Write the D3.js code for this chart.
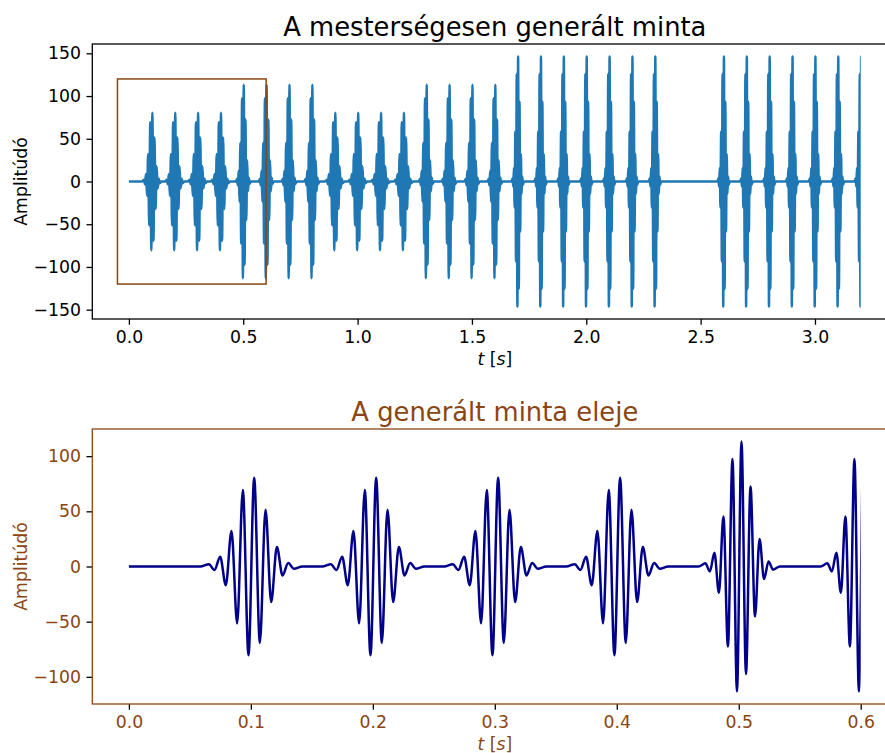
<!DOCTYPE html>
<html>
<head>
<meta charset="utf-8">
<script src="https://cdn.jsdelivr.net/npm/d3@7"></script>
<style>
  body { margin: 0; background: #fff; }
  svg { display: block; font-family: "DejaVu Sans", sans-serif; }
</style>
</head>
<body>
<svg id="chart" width="885" height="753"></svg>
<script>
// burst centres [s], peak amplitude and half period [ms]
var burstCenters = [0.1, 0.2, 0.3, 0.4, 0.5, 0.6, 0.7, 0.8, 0.9, 1.0, 1.1, 1.2,
  1.3, 1.4, 1.5, 1.6, 1.7, 1.8, 1.9, 2.0, 2.1, 2.2, 2.3,
  2.6, 2.7, 2.8, 2.9, 3.0, 3.1, 3.2]
var burstAmps = [80.5, 80.5, 80.5, 80.5, 113.3, 113.3, 113.3, 113.3,
  80.5, 80.5, 80.5, 80.5, 113.3, 113.3, 113.3, 113.3,
  146.3, 146.3, 146.3, 146.3, 146.3, 146.3, 146.3,
  146.3, 146.3, 146.3, 146.3, 146.3, 146.3, 146.3]
var burstHalfPeriods = [4.65, 4.65, 4.65, 4.65, 3.7, 3.7, 3.7, 3.7,
  4.65, 4.65, 4.65, 4.65, 3.7, 3.7, 3.7, 3.7,
  3.03, 3.03, 3.03, 3.03, 3.03, 3.03, 3.03,
  3.03, 3.03, 3.03, 3.03, 3.03, 3.03, 3.03]
var centerShift = 0.0004

// one burst: extrema positions (in half periods from centre) and relative values
var shapeOffsets = [-9, -7.5, -6.5, -5.5, -4.5, -3.5, -2.5, -1.5, -0.5,
  0.5, 1.5, 2.5, 3.5, 4.5, 5.5, 6.5, 7.5, 9]
var shapeValues = [0, 0.025, -0.04, 0.11, -0.21, 0.4, -0.64, 0.86, -1,
  1, -0.86, 0.64, -0.4, 0.22, -0.1, 0.04, -0.025, 0]

var signalStart = 0, signalEnd = 3.2, zoomEnd = 0.6
var zoomBox = {t0: -0.05, t1: 0.6, a0: -120, a1: 120}

var xTicksTop = [0, 0.5, 1.0, 1.5, 2.0, 2.5, 3.0]
var yTicksTop = [-150, -100, -50, 0, 50, 100, 150]
var xTicksBot = [0, 0.1, 0.2, 0.3, 0.4, 0.5, 0.6]
var yTicksBot = [-100, -50, 0, 50, 100]

var brown = '#8B4513'
var tickFont = '17.3px', titleFont = '25.8px'

var signal = [{t: signalStart, v: 0}]
burstCenters.forEach(function(c, i){
  var h = burstHalfPeriods[i]/1000
  shapeOffsets.forEach(function(o, j){
    signal.push({t: c + centerShift + o*h, v: shapeValues[j]*burstAmps[i]})
  })
})
signal.push({t: signalEnd + 0.05, v: 0})

var svg = d3.select('#chart')
var defs = svg.append('defs')

function panel(opt){
  var g = svg.append('g')
  var x = d3.scaleLinear().domain(opt.xDomain).range([92.3, 897.3])
  var y = d3.scaleLinear().domain(opt.yDomain).range([opt.bottom, opt.top])

  defs.append('clipPath').attr('id', opt.id)
    .append('rect')
    .attr('x', x.range()[0]).attr('y', opt.top)
    .attr('width', x(opt.tEnd) - x.range()[0])
    .attr('height', opt.bottom - opt.top)

  var line = d3.line().x(d => x(d.t)).y(d => y(d.v)).curve(d3.curveMonotoneX)
  g.append('path')
    .datum(signal)
    .attr('d', line)
    .attr('clip-path', 'url(#' + opt.id + ')')
    .attr('fill', 'none')
    .attr('stroke', opt.lineColor)
    .attr('stroke-width', 2.5)
    .attr('stroke-linejoin', 'round')

  var xAxis = g.append('g')
    .attr('transform', 'translate(0,' + opt.bottom + ')')
    .call(d3.axisBottom(x).tickValues(opt.xTicks).tickFormat(d3.format('.1f'))
      .tickSizeInner(5.8).tickSizeOuter(0).tickPadding(5.5))
  var yAxis = g.append('g')
    .attr('transform', 'translate(92.3,0)')
    .call(d3.axisLeft(y).tickValues(opt.yTicks).tickFormat(d3.format('d'))
      .tickSizeInner(5.8).tickSizeOuter(0).tickPadding(5.5))

  ;[xAxis, yAxis].forEach(function(a){
    a.select('.domain').remove()
    a.selectAll('.tick line').attr('stroke', '#000').attr('stroke-width', 1.3)
    a.selectAll('.tick text').attr('fill', opt.textColor)
      .style('font-size', tickFont).style('font-family', 'DejaVu Sans')
  })

  // frame
  g.append('rect')
    .attr('x', x.range()[0]).attr('y', opt.top)
    .attr('width', x.range()[1] - x.range()[0]).attr('height', opt.bottom - opt.top)
    .attr('fill', 'none').attr('stroke', opt.spineColor).attr('stroke-width', 1.3)

  g.append('text')
    .attr('x', (x.range()[0] + x.range()[1])/2).attr('y', opt.top - 8.5)
    .attr('text-anchor', 'middle').attr('fill', opt.textColor)
    .style('font-size', titleFont)
    .text(opt.title)

  var xl = g.append('text')
    .attr('x', (x.range()[0] + x.range()[1])/2).attr('y', opt.bottom + 46)
    .attr('text-anchor', 'middle').attr('fill', opt.textColor)
    .style('font-size', tickFont)
  xl.append('tspan').style('font-style', 'italic').text('t')
  xl.append('tspan').text(' [')
  xl.append('tspan').style('font-style', 'italic').text('s')
  xl.append('tspan').text(']')

  g.append('text')
    .attr('transform', 'translate(27,' + (opt.top + opt.bottom)/2 + ') rotate(-90)')
    .attr('text-anchor', 'middle').attr('fill', opt.textColor)
    .style('font-size', tickFont)
    .text('Amplitúdó')

  return {g: g, x: x, y: y}
}

var topPanel = panel({
  id: 'clipTop', top: 44, bottom: 319,
  xDomain: [-0.16, 3.36], yDomain: [-160.9, 160.9],
  xTicks: xTicksTop, yTicks: yTicksTop, tEnd: signalEnd,
  lineColor: '#1f77b4', textColor: '#000', spineColor: '#000',
  title: 'A mesterségesen generált minta'
})

topPanel.g.append('rect')
  .attr('x', topPanel.x(zoomBox.t0)).attr('y', topPanel.y(zoomBox.a1))
  .attr('width', topPanel.x(zoomBox.t1) - topPanel.x(zoomBox.t0))
  .attr('height', topPanel.y(zoomBox.a0) - topPanel.y(zoomBox.a1))
  .attr('fill', 'none').attr('stroke', brown).attr('stroke-width', 1.5)

panel({
  id: 'clipBot', top: 429, bottom: 704,
  xDomain: [-0.03, 0.63], yDomain: [-124.6, 124.6],
  xTicks: xTicksBot, yTicks: yTicksBot, tEnd: zoomEnd,
  lineColor: '#00008b', textColor: brown, spineColor: brown,
  title: 'A generált minta eleje'
})
</script>
</body>
</html>
